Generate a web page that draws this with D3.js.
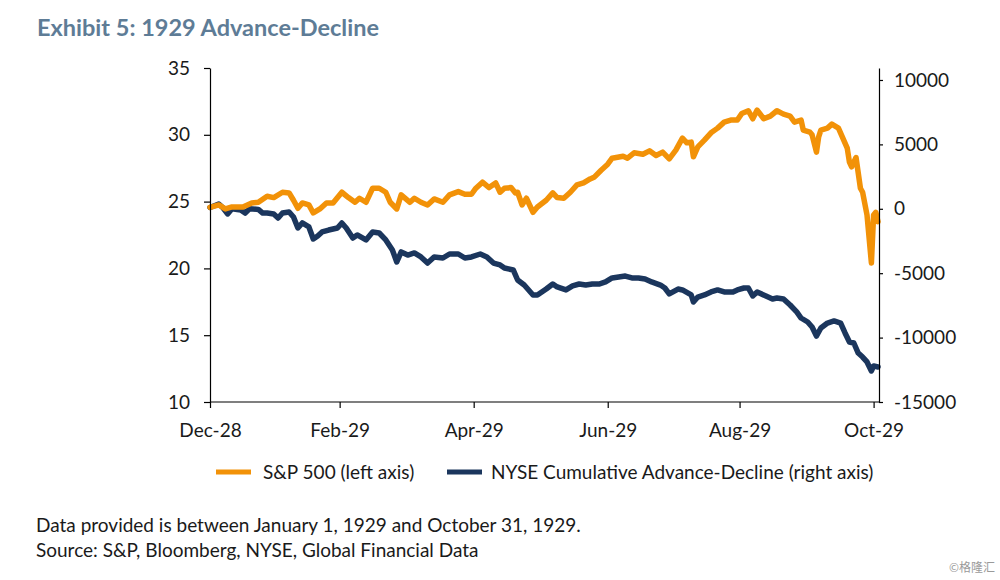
<!DOCTYPE html>
<html>
<head>
<meta charset="utf-8">
<script src="https://cdn.jsdelivr.net/npm/d3@7"></script>
<style>
  html, body { margin: 0; padding: 0; background: #fff; }
  svg { display: block; font-family: Lato, "Open Sans", sans-serif; }
</style>
</head>
<body>
<svg id="chart" width="1000" height="580"></svg>
<script>
// ---------------- DATA ----------------
const spDates = ["1928-12-31","1929-01-04","1929-01-07","1929-01-10","1929-01-15","1929-01-19","1929-01-22","1929-01-26","1929-01-29","1929-02-02","1929-02-05","1929-02-07","1929-02-09","1929-02-11","1929-02-14","1929-02-16","1929-02-19","1929-02-22","1929-02-25","1929-03-01","1929-03-04","1929-03-07","1929-03-09","1929-03-12","1929-03-15","1929-03-18","1929-03-21","1929-03-23","1929-03-26","1929-03-28","1929-04-01","1929-04-03","1929-04-06","1929-04-09","1929-04-12","1929-04-16","1929-04-19","1929-04-23","1929-04-26","1929-04-29","1929-05-01","1929-05-04","1929-05-07","1929-05-10","1929-05-12","1929-05-14","1929-05-17","1929-05-19","1929-05-20","1929-05-22","1929-05-24","1929-05-27","1929-05-29","1929-06-02","1929-06-05","1929-06-07","1929-06-10","1929-06-13","1929-06-16","1929-06-19","1929-06-22","1929-06-24","1929-06-27","1929-06-30","1929-07-02","1929-07-07","1929-07-09","1929-07-12","1929-07-16","1929-07-19","1929-07-22","1929-07-25","1929-07-28","1929-07-31","1929-08-03","1929-08-05","1929-08-07","1929-08-08","1929-08-10","1929-08-13","1929-08-16","1929-08-19","1929-08-22","1929-08-25","1929-08-28","1929-08-30","1929-09-02","1929-09-04","1929-09-06","1929-09-09","1929-09-12","1929-09-15","1929-09-18","1929-09-21","1929-09-23","1929-09-26","1929-09-27","1929-09-30","1929-10-01","1929-10-03","1929-10-04","1929-10-05","1929-10-08","1929-10-10","1929-10-13","1929-10-15","1929-10-17","1929-10-18","1929-10-19","1929-10-21","1929-10-23","1929-10-24","1929-10-26","1929-10-28","1929-10-29","1929-10-30","1929-10-31"];
const spValues = [24.57,24.75,24.45,24.6,24.6,24.9,24.95,25.4,25.3,25.7,25.65,25.1,24.5,24.9,24.75,24.15,24.45,24.9,24.9,25.7,25.3,24.95,25.25,24.95,26.0,26.0,25.7,24.95,24.45,25.5,24.95,25.25,24.95,24.75,25.2,24.95,25.5,25.75,25.55,25.55,26.0,26.45,26.05,26.4,25.7,26.0,26.05,25.65,25.7,24.75,25.25,24.2,24.6,25.1,25.65,25.3,25.25,25.7,26.25,26.4,26.7,26.85,27.35,27.8,28.25,28.4,28.25,28.65,28.55,28.8,28.45,28.7,28.2,28.85,29.75,29.4,29.45,28.35,29.1,29.6,30.15,30.5,30.95,31.1,31.1,31.6,31.8,31.2,31.85,31.2,31.4,31.8,31.55,31.4,30.95,31.1,30.35,30.2,30.0,28.7,29.85,30.35,30.5,30.8,30.5,29.75,29.0,27.95,27.6,28.3,26.0,25.7,24.0,20.4,24.0,24.2,23.5];

const adDates = ["1928-12-31","1929-01-04","1929-01-06","1929-01-08","1929-01-10","1929-01-14","1929-01-16","1929-01-18","1929-01-22","1929-01-24","1929-01-26","1929-01-29","1929-01-31","1929-02-02","1929-02-05","1929-02-07","1929-02-09","1929-02-11","1929-02-14","1929-02-16","1929-02-18","1929-02-20","1929-02-23","1929-02-27","1929-03-01","1929-03-03","1929-03-06","1929-03-08","1929-03-12","1929-03-15","1929-03-18","1929-03-21","1929-03-24","1929-03-26","1929-03-28","1929-03-31","1929-04-03","1929-04-06","1929-04-09","1929-04-12","1929-04-16","1929-04-19","1929-04-23","1929-04-26","1929-04-29","1929-05-03","1929-05-06","1929-05-09","1929-05-12","1929-05-14","1929-05-18","1929-05-20","1929-05-23","1929-05-27","1929-05-29","1929-06-02","1929-06-05","1929-06-07","1929-06-11","1929-06-14","1929-06-17","1929-06-20","1929-06-23","1929-06-26","1929-06-29","1929-07-02","1929-07-05","1929-07-08","1929-07-11","1929-07-14","1929-07-17","1929-07-20","1929-07-24","1929-07-26","1929-07-28","1929-08-01","1929-08-03","1929-08-07","1929-08-08","1929-08-10","1929-08-13","1929-08-16","1929-08-19","1929-08-22","1929-08-26","1929-08-28","1929-08-31","1929-09-02","1929-09-04","1929-09-06","1929-09-10","1929-09-13","1929-09-15","1929-09-18","1929-09-21","1929-09-24","1929-09-26","1929-09-29","1929-10-01","1929-10-03","1929-10-05","1929-10-08","1929-10-11","1929-10-14","1929-10-16","1929-10-18","1929-10-20","1929-10-22","1929-10-24","1929-10-26","1929-10-28","1929-10-29","1929-10-31"];
const adValues = [100,370,60,-400,0,-90,-330,0,-50,-330,-330,-400,-715,-330,-250,-640,-1490,-1100,-1410,-2345,-2110,-1800,-1650,-1490,-1100,-1490,-2270,-2030,-2420,-1800,-1880,-2420,-3200,-4130,-3350,-3590,-3430,-3740,-4210,-3740,-3820,-3510,-3510,-3820,-3740,-3510,-3740,-4210,-4360,-4600,-4750,-5530,-5920,-6690,-6690,-6230,-5840,-6070,-6300,-5990,-5840,-5920,-5840,-5840,-5680,-5370,-5300,-5220,-5370,-5370,-5450,-5680,-5920,-6150,-6610,-6230,-6300,-6690,-7240,-6850,-6690,-6460,-6300,-6460,-6460,-6300,-6150,-6150,-6770,-6460,-6770,-7000,-6930,-7000,-7470,-8010,-8480,-8790,-9180,-9880,-9250,-8870,-8710,-8870,-9640,-10340,-10420,-11200,-11510,-11890,-12590,-12200,-12280];

const leftTicks = [10, 15, 20, 25, 30, 35];
const rightTicks = [-15000, -10000, -5000, 0, 5000, 10000];
const xTickDates = ["1928-12-31","1929-02-28","1929-04-30","1929-06-30","1929-08-29","1929-10-29"];
const xTickLabels = ["Dec-28","Feb-29","Apr-29","Jun-29","Aug-29","Oct-29"];

const seriesNames = ["S&P 500 (left axis)", "NYSE Cumulative Advance-Decline (right axis)"];
const titleText = "Exhibit 5: 1929 Advance-Decline";
const notes = ["Data provided is between January 1, 1929 and October 31, 1929.",
               "Source: S&P, Bloomberg, NYSE, Global Financial Data"];

// ---------------- DRAW ----------------
(function () {
const parse = d3.timeParse("%Y-%m-%d");
const svg = d3.select("#chart");
const ORANGE = "#F29208", NAVY = "#1B365D", TXT = "#1a1a1a";
const FS = 19;

const pL = 210, pR = 879, pT = 68, pB = 402;

const x = d3.scaleTime()
  .domain([parse("1928-12-31"), parse("1929-10-31")])
  .range([pL, pR - 1]);
const yL = d3.scaleLinear().domain([10, 35]).range([pB, pT]);
const yR = d3.scaleLinear().domain([-15000, 10930]).range([pB, pT]);

// title
svg.append("text").attr("x", 37).attr("y", 36)
  .attr("font-size", 23.5).attr("font-weight", 700).attr("fill", "#5E7C96")
  .text(titleText);

// lines
const sp = spDates.map((d, i) => ({ d: parse(d), v: spValues[i] }));
const ad = adDates.map((d, i) => ({ d: parse(d), v: adValues[i] }));

svg.append("path").datum(ad)
  .attr("fill", "none").attr("stroke", NAVY).attr("stroke-width", 5.5)
  .attr("stroke-linejoin", "round").attr("stroke-linecap", "round")
  .attr("d", d3.line().x(p => x(p.d)).y(p => yR(p.v)));

svg.append("path").datum(sp)
  .attr("fill", "none").attr("stroke", ORANGE).attr("stroke-width", 5.5)
  .attr("stroke-linejoin", "round").attr("stroke-linecap", "round")
  .attr("d", d3.line().x(p => x(p.d)).y(p => yL(p.v)));

// axes
function styleAxis(g) {
  g.selectAll("path.domain").attr("stroke", "#000").attr("stroke-width", 1.2);
  g.selectAll(".tick line").attr("stroke", "#000").attr("stroke-width", 1.2);
  g.selectAll(".tick text").attr("fill", TXT).attr("font-size", FS)
    .attr("font-family", "Lato, 'Open Sans', sans-serif");
}

svg.append("g").attr("transform", `translate(${pL},0)`)
  .call(d3.axisLeft(yL).tickValues(leftTicks).tickSize(6).tickSizeOuter(0).tickPadding(14)
    .tickFormat(d => String(d)))
  .call(styleAxis);

svg.append("g").attr("transform", `translate(${pR},0)`)
  .call(d3.axisRight(yR).tickValues(rightTicks).tickSize(4).tickSizeOuter(0).tickPadding(11)
    .tickFormat(d => String(d)))
  .call(styleAxis);

const xAxis = svg.append("g").attr("transform", `translate(0,${pB})`)
  .call(d3.axisBottom(x).tickValues(xTickDates.map(parse)).tickSize(6).tickSizeOuter(0)
    .tickFormat((d, i) => xTickLabels[i]))
  .call(styleAxis);
xAxis.selectAll(".tick text").attr("dy", null).attr("y", 35);
xAxis.select("path.domain").attr("d", `M${pL},0H${pR}`);

// legend
const legend = svg.append("g");
const legItems = [
  { name: seriesNames[0], color: ORANGE, x: 216, tx: 263 },
  { name: seriesNames[1], color: NAVY, x: 447, tx: 491 }
];
legItems.forEach(it => {
  legend.append("line").attr("x1", it.x).attr("x2", it.x + 35)
    .attr("y1", 472).attr("y2", 472).attr("stroke", it.color).attr("stroke-width", 5);
  legend.append("text").attr("x", it.tx).attr("y", 479)
    .attr("font-size", FS).attr("fill", TXT).text(it.name);
});

// notes
notes.forEach((t, i) => {
  svg.append("text").attr("x", 36).attr("y", 532 + i * 25)
    .attr("font-size", FS).attr("fill", TXT).text(t);
});

// watermark
svg.append("text").attr("x", 995).attr("y", 572).attr("text-anchor", "end")
  .attr("font-size", 12).attr("fill", "#9a9a9a")
  .attr("font-family", "'Noto Sans CJK SC', sans-serif").text("©格隆汇");
})();
</script>
</body>
</html>
